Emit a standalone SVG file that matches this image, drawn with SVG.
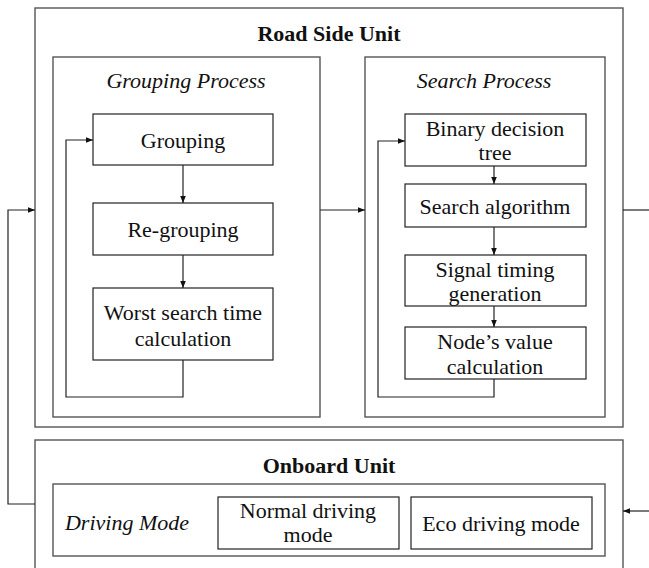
<svg xmlns="http://www.w3.org/2000/svg" width="649" height="568" viewBox="0 0 649 568">
<defs>
<marker id="ah" viewBox="0 0 10 10" refX="10" refY="5" markerWidth="7" markerHeight="7" markerUnits="userSpaceOnUse" orient="auto"><path d="M0,1 L10,5 L0,9 z" fill="#111"/></marker>
<style>
.frame{fill:#fff;stroke:#555;stroke-width:1.4}
.box{fill:#fff;stroke:#222;stroke-width:1.2}
.con{fill:none;stroke:#222;stroke-width:1.2}
text{font-family:"Liberation Serif","Times New Roman",serif;font-size:22px;fill:#111;text-anchor:middle}
.b{font-weight:bold}
.i{font-style:italic}
</style>
</defs>
<rect width="649" height="568" fill="#fff"/>
<g id="rsu">
<rect class="frame" x="35" y="8" width="588" height="419"/>
<text class="b" x="329" y="41">Road Side Unit</text>
</g>
<g id="grouping-process">
<rect class="frame" x="53" y="57" width="267" height="360"/>
<text class="i" x="186" y="88">Grouping Process</text>
</g>
<g id="search-process">
<rect class="frame" x="365" y="57" width="240" height="360"/>
<text class="i" x="484" y="88">Search Process</text>
</g>
<g id="grouping">
<rect class="box" x="93" y="114" width="180" height="51"/>
<text x="183" y="148">Grouping</text>
</g>
<g id="regrouping">
<rect class="box" x="93" y="203" width="180" height="52"/>
<text x="183" y="237">Re-grouping</text>
</g>
<g id="worst">
<rect class="box" x="93" y="288" width="180" height="72"/>
<text x="183" y="320">Worst search time</text>
<text x="183" y="346">calculation</text>
</g>
<g id="binary">
<rect class="box" x="405" y="114" width="181" height="52"/>
<text x="495" y="136">Binary decision</text>
<text x="495" y="160">tree</text>
</g>
<g id="searchalg">
<rect class="box" x="405" y="184" width="181" height="43"/>
<text x="495" y="214">Search algorithm</text>
</g>
<g id="signal">
<rect class="box" x="405" y="255" width="181" height="51"/>
<text x="495" y="277">Signal timing</text>
<text x="495" y="301">generation</text>
</g>
<g id="nodevalue">
<rect class="box" x="405" y="327" width="181" height="52"/>
<text x="495" y="349">Node’s value</text>
<text x="495" y="374">calculation</text>
</g>
<g id="obu">
<rect class="frame" x="35" y="440" width="588" height="140"/>
<text class="b" x="329" y="473">Onboard Unit</text>
</g>
<g id="driving-mode">
<rect class="frame" x="53" y="484" width="552" height="72"/>
<text class="i" x="127" y="530">Driving Mode</text>
</g>
<g id="normal">
<rect class="box" x="218" y="497" width="181" height="52"/>
<text x="308" y="518">Normal driving</text>
<text x="308" y="542">mode</text>
</g>
<g id="eco">
<rect class="box" x="411" y="497" width="181" height="52"/>
<text x="501" y="531">Eco driving mode</text>
</g>
<g id="connectors">
<path class="con" d="M183,165 V203" marker-end="url(#ah)"/>
<path class="con" d="M183,255 V288" marker-end="url(#ah)"/>
<path class="con" d="M183,360 V397 H66 V140 H93" marker-end="url(#ah)"/>
<path class="con" d="M494,166 V184" marker-end="url(#ah)"/>
<path class="con" d="M494,227 V255" marker-end="url(#ah)"/>
<path class="con" d="M494,306 V327" marker-end="url(#ah)"/>
<path class="con" d="M494,379 V397 H378 V141 H405" marker-end="url(#ah)"/>
<path class="con" d="M320,210 H365" marker-end="url(#ah)"/>
<path class="con" d="M35,504 H8 V210 H35" marker-end="url(#ah)"/>
<path class="con" d="M623,210 H649"/>
<path class="con" d="M649,511 H623" marker-end="url(#ah)"/>
</g>
</svg>
